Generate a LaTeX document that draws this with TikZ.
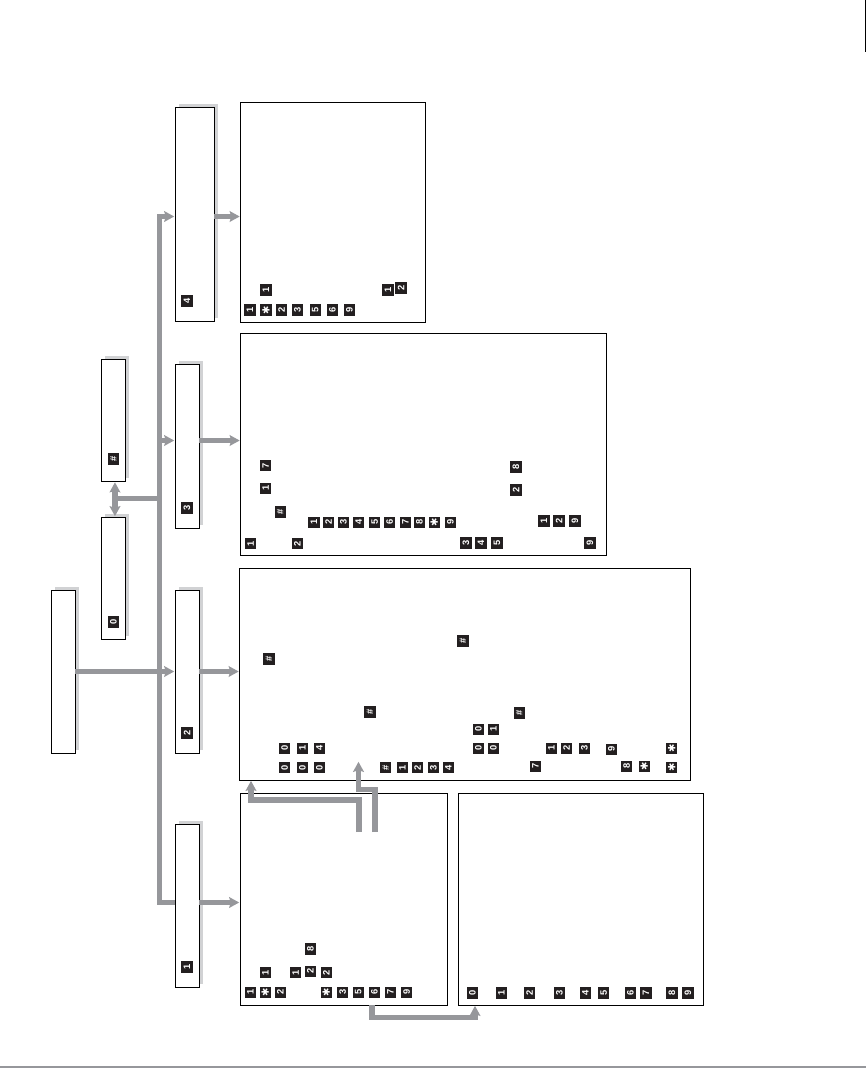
\documentclass[tikz,border=0pt]{standalone}
\usepackage{fontspec}
\setsansfont{Liberation Sans}
\newfontfamily\starfont{DejaVu Sans}
\usetikzlibrary{arrows.meta,shadows}
\definecolor{wiregray}{HTML}{96979B}
\definecolor{shelfgray}{HTML}{D1D2D4}
\definecolor{capblack}{HTML}{231F20}
\newcommand{\keystar}{{\starfont\fontsize{7.5}{8}\selectfont ✱}}
\tikzset{
  panel/.style 2 args = {draw, fill=white, line width=.7pt, inner sep=0pt, outer sep=0pt,
                         minimum width=#1*0.75pt, minimum height=#2*0.75pt},
  shelf/.style 2 args = {panel={#1}{#2},
                         drop shadow={shadow xshift=2.9pt, shadow yshift=2.4pt, fill=shelfgray, opacity=1}},
  keycap/.style = {fill=capblack, text=white, rotate=90, inner sep=0pt, minimum size=8.6pt,
                   font=\fontsize{7}{7}\selectfont\sffamily\bfseries},
  wire/.style   = {draw=wiregray, line width=4pt, shorten >=.6pt},
  >={Stealth[length=7.5pt,width=8pt,inset=1.2pt,fill=wiregray]}
}

\begin{document}
\begin{tikzpicture}[x=0.75pt, y=-0.75pt]
    \useasboundingbox (0,0) rectangle (866,1068);
    % Page edge marks
    \draw[line width=.9pt] (865.4,0) -- (865.4,52);
    \draw[wiregray, line width=1.6pt] (0,1067) -- (866,1067);
    % Tall boxes
    \node[shelf={24}{163}] (main) at (63,671.5) {};
    \node[shelf={24}{122}] (zero) at (113.5,578) {};
    \node[shelf={24}{122}] (hash) at (113.5,420.5) {};
    \node[shelf={39}{214}] (box4) at (194.5,214) {};
    \node[shelf={24}{164}] (box3) at (187,446) {};
    \node[shelf={24}{163}] (box2) at (187,671.5) {};
    \node[shelf={24}{163}] (box1) at (187,905.5) {};
    % Frames
    \node[panel={185}{220}] (f4) at (333,212) {};
    \node[panel={366}{221.5}] (f3) at (423.5,444.25) {};
    \node[panel={451}{212}] (f2) at (465,674) {};
    \node[panel={207}{212}] (f1) at (343.5,899) {};
    \node[panel={245}{212}] (f0) at (580.5,899) {};
    % Box labels
    \node[keycap] (lab4) at (187,301) {4};
    \node[keycap] (lab3) at (187,508) {3};
    \node[keycap] (lab2) at (187,733) {2};
    \node[keycap] (lab1) at (187,967) {1};
    \node[keycap] (labhash) at (113.5,459) {\#};
    \node[keycap] (labzero) at (113.5,622) {0};
    % Frame 4
    \node[keycap] (a1) at (266,290) {1};
    \node[keycap] (a2) at (388,290) {1};
    \node[keycap] (a3) at (401,288) {2};
    \node[keycap] (a4) at (250,310) {1};
    \node[keycap] (a5) at (266,310) {\keystar};
    \node[keycap] (a6) at (281.7,310) {2};
    \node[keycap] (a7) at (297.3,310) {3};
    \node[keycap] (a8) at (315.3,310) {5};
    \node[keycap] (a9) at (332.3,310) {6};
    \node[keycap] (a10) at (349.3,310) {9};
    % Frame 3
    \node[keycap] (b1) at (265.7,465.7) {7};
    \node[keycap] (b2) at (265.7,488.3) {1};
    \node[keycap] (b3) at (280.3,512) {\#};
    \node[keycap] (b4) at (250.7,543.7) {1};
    \node[keycap] (b5) at (297.3,543.7) {2};
    \node[keycap] (b6) at (314,522.3) {1};
    \node[keycap] (b7) at (328.7,522.3) {2};
    \node[keycap] (b8) at (343.3,522.3) {3};
    \node[keycap] (b9) at (358.7,522.3) {4};
    \node[keycap] (b10) at (374.7,522.3) {5};
    \node[keycap] (b11) at (389.7,522.3) {6};
    \node[keycap] (b12) at (405.3,522.3) {7};
    \node[keycap] (b13) at (419.3,522.3) {8};
    \node[keycap] (b14) at (434.3,522.3) {\keystar};
    \node[keycap] (b15) at (450.3,522.3) {9};
    \node[keycap] (b16) at (466,543) {3};
    \node[keycap] (b17) at (481,543) {4};
    \node[keycap] (b18) at (497,543) {5};
    \node[keycap] (b19) at (516,467) {8};
    \node[keycap] (b20) at (516,490) {2};
    \node[keycap] (b21) at (544,521) {1};
    \node[keycap] (b22) at (559,521) {2};
    \node[keycap] (b23) at (575,521) {9};
    \node[keycap] (b24) at (590,543) {9};
    % Frame 2
    \node[keycap] (c1) at (463,641) {\#};
    \node[keycap] (c2) at (269,659) {\#};
    \node[keycap] (c3) at (370,712) {\#};
    \node[keycap] (c4) at (519.3,713) {\#};
    \node[keycap] (c5) at (478.3,729.3) {0};
    \node[keycap] (c6) at (493.3,729.3) {1};
    \node[keycap] (c7) at (478.3,748.3) {0};
    \node[keycap] (c8) at (493.3,748.3) {0};
    \node[keycap] (c9) at (551.3,748.3) {1};
    \node[keycap] (c10) at (566.7,748.3) {2};
    \node[keycap] (c11) at (584.3,748.3) {3};
    \node[keycap] (c12) at (611.3,749.3) {9};
    \node[keycap] (c13) at (671.7,748.3) {\keystar};
    \node[keycap] (c14) at (535.3,766.3) {7};
    \node[keycap] (c15) at (626.7,766.3) {8};
    \node[keycap] (c16) at (644.3,766.3) {\keystar};
    \node[keycap] (c17) at (671.7,767.3) {\keystar};
    \node[keycap] (c18) at (284.7,748.3) {0};
    \node[keycap] (c19) at (302.3,748.3) {1};
    \node[keycap] (c20) at (319.3,748.3) {4};
    \node[keycap] (c21) at (284.7,767.7) {0};
    \node[keycap] (c22) at (302.3,767.7) {0};
    \node[keycap] (c23) at (319.3,767.7) {0};
    \node[keycap] (c24) at (385.7,767.7) {\#};
    \node[keycap] (c25) at (402.3,767.7) {1};
    \node[keycap] (c26) at (417.7,767.7) {2};
    \node[keycap] (c27) at (433.3,767.7) {3};
    \node[keycap] (c28) at (448.3,767.7) {4};
    % Frame 1
    \node[keycap] (d1) at (310.3,949) {8};
    \node[keycap] (d2) at (265.3,972.7) {1};
    \node[keycap] (d3) at (295.7,972.7) {1};
    \node[keycap] (d4) at (310.3,971.3) {2};
    \node[keycap] (d5) at (326.3,972.7) {2};
    \node[keycap] (d6) at (250.3,992.3) {1};
    \node[keycap] (d7) at (265.3,992.3) {\keystar};
    \node[keycap] (d8) at (280.3,992.3) {2};
    \node[keycap] (d9) at (326.3,992.3) {\keystar};
    \node[keycap] (d10) at (342.7,992.3) {3};
    \node[keycap] (d11) at (358.3,992.3) {5};
    \node[keycap] (d12) at (374.3,992.3) {6};
    \node[keycap] (d13) at (390.3,992.3) {7};
    \node[keycap] (d14) at (406.7,992.3) {9};
    % Frame 0
    \node[keycap] (e0) at (472.3,993) {0};
    \node[keycap] (e1) at (501.3,993) {1};
    \node[keycap] (e2) at (529.7,993) {2};
    \node[keycap] (e3) at (559.3,993) {3};
    \node[keycap] (e4) at (585.3,993) {4};
    \node[keycap] (e5) at (603.7,993) {5};
    \node[keycap] (e6) at (630.3,993) {6};
    \node[keycap] (e7) at (646,993) {7};
    \node[keycap] (e8) at (672,993) {8};
    \node[keycap] (e9) at (688,993) {9};
    % Bus points
    \coordinate (bus4) at (159.5,216.5);
    \coordinate (bus3) at (159.5,440.5);
    \coordinate (bus0) at (159.5,498.5);
    \coordinate (dbl) at (115,498.5);
    \coordinate (bus1) at (159.5,902.5);
    % Wires
    \draw[wire,->] (main) -- (box2);
    \draw[wire,->] (box2) -- (f2.west |- box2);
    \draw[wire,->,line join=miter] (bus1 -| box1.west) -- (bus1) -- (bus4) -- (bus4 -| box4.west);
    \draw[wire,->] (bus3) -- (bus3 -| box3.west);
    \draw[wire] (bus0) -- (dbl);
    \draw[wire,<->,shorten <=.6pt] ([xshift=1.1pt]hash.south) -- ([xshift=1.1pt]zero.north);
    \draw[wire,->] (bus4 -| box4.east) -- (bus4 -| f4.west);
    \draw[wire,->] (bus3 -| box3.east) -- (bus3 -| f3.west);
    \draw[wire,->] (bus1 -| box1.east) -- (bus1 -| f1.west);
    % Jumps between frames
    \coordinate (tapa) at (359,832);
    \coordinate (turna) at (251,800);
    \coordinate (tapb) at (375,832);
    \coordinate (turnb) at (358.5,789.5);
    \coordinate (tipb) at (358.5,761);
    \coordinate (tapc) at (372,1005);
    \coordinate (turnc) at (475,1017.5);
    \draw[wire,->] (tapa) |- (turna) -- (turna |- f2.south);
    \draw[wire,->] (tapb) |- (turnb) -- (tipb);
    \draw[wire,->] (tapc) |- (turnc) -- (turnc |- f0.south);
\end{tikzpicture}
\end{document}
